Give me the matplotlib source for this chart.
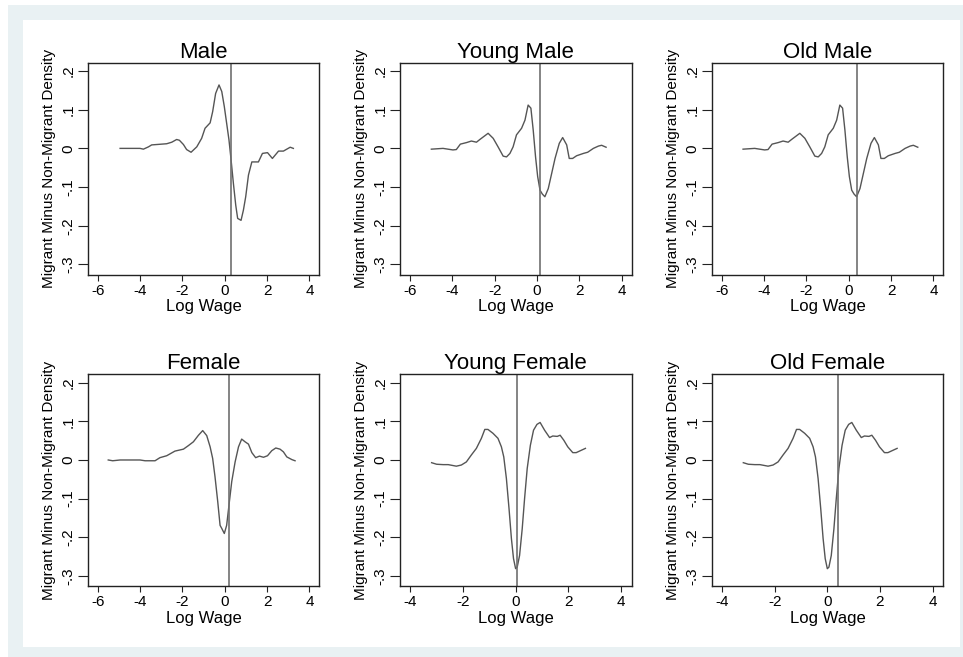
import matplotlib
matplotlib.use("Agg")
import matplotlib.pyplot as plt
from matplotlib.patches import Rectangle

plt.rcParams["font.family"] = ["Liberation Sans", "DejaVu Sans"]

# Migrant minus non-migrant wage density, by group
male_x = [-4.94, -4.5, -4.0, -3.84, -3.6, -3.45, -3.21, -2.74, -2.5, -2.27, -2.14, -1.95, -1.80,
          -1.59, -1.32, -1.09, -0.93, -0.69, -0.57, -0.43, -0.27, -0.14, -0.02, 0.09, 0.20, 0.30,
          0.41, 0.52, 0.61, 0.77, 0.88, 0.99, 1.12, 1.28, 1.59, 1.78, 2.02, 2.25, 2.54, 2.77, 3.09, 3.24]
male_y = [0.0, 0.0, 0.0, -0.002, 0.004, 0.009, 0.010, 0.012, 0.016, 0.023, 0.021, 0.010, -0.003,
          -0.010, 0.004, 0.026, 0.052, 0.066, 0.095, 0.142, 0.164, 0.147, 0.108, 0.065, 0.022, -0.030,
          -0.091, -0.147, -0.181, -0.186, -0.160, -0.125, -0.069, -0.035, -0.035, -0.013, -0.011,
          -0.026, -0.007, -0.007, 0.003, 0.0]

young_male_x = [-4.99, -4.44, -3.97, -3.81, -3.62, -3.33, -3.10, -2.86, -2.70, -2.31, -2.07, -1.84,
                -1.60, -1.44, -1.28, -1.13, -0.97, -0.73, -0.57, -0.42, -0.29, -0.18, -0.07, 0.03,
                0.14, 0.25, 0.37, 0.53, 0.69, 0.85, 1.05, 1.21, 1.40, 1.52, 1.68, 1.87, 2.19, 2.39,
                2.66, 2.90, 3.05, 3.26]
young_male_y = [-0.002, 0.0, -0.004, -0.003, 0.011, 0.015, 0.019, 0.016, 0.023, 0.039, 0.026, 0.004,
                -0.020, -0.022, -0.013, 0.004, 0.035, 0.052, 0.073, 0.112, 0.104, 0.047, -0.022, -0.073,
                -0.108, -0.118, -0.125, -0.104, -0.065, -0.026, 0.013, 0.028, 0.009, -0.026, -0.026,
                -0.019, -0.013, -0.010, 0.0, 0.006, 0.008, 0.003]

old_male_x = young_male_x
old_male_y = young_male_y

female_x = [-5.50, -5.29, -4.94, -4.00, -3.76, -3.29, -3.06, -2.74, -2.35, -1.95, -1.72, -1.48, -1.24,
            -1.04, -0.85, -0.69, -0.57, -0.46, -0.33, -0.22, -0.14, -0.02, 0.09, 0.20, 0.33, 0.49,
            0.65, 0.80, 0.96, 1.12, 1.28, 1.46, 1.64, 1.83, 2.02, 2.22, 2.41, 2.61, 2.77, 2.93, 3.17, 3.32]
female_y = [0.0, -0.002, 0.0, 0.0, -0.002, -0.002, 0.006, 0.011, 0.023, 0.028, 0.037, 0.047, 0.064,
            0.076, 0.063, 0.034, 0.004, -0.043, -0.108, -0.169, -0.177, -0.190, -0.169, -0.117, -0.056,
            -0.005, 0.034, 0.054, 0.047, 0.041, 0.019, 0.006, 0.010, 0.007, 0.011, 0.024, 0.031, 0.028,
            0.021, 0.008, 0.001, -0.002]

young_female_x = [-3.19, -3.00, -2.75, -2.56, -2.25, -2.06, -1.87, -1.68, -1.49, -1.30, -1.17, -1.05,
                  -0.86, -0.67, -0.54, -0.45, -0.35, -0.25, -0.16, -0.08, 0.00, 0.06, 0.15, 0.25, 0.34,
                  0.44, 0.56, 0.68, 0.81, 0.93, 1.10, 1.29, 1.41, 1.58, 1.69, 1.83, 1.98, 2.17, 2.30,
                  2.49, 2.65]
young_female_y = [-0.007, -0.011, -0.012, -0.012, -0.016, -0.013, -0.005, 0.013, 0.030, 0.056, 0.079,
                  0.079, 0.069, 0.056, 0.034, 0.008, -0.048, -0.126, -0.203, -0.255, -0.281, -0.277,
                  -0.247, -0.178, -0.100, -0.022, 0.038, 0.077, 0.092, 0.097, 0.077, 0.058, 0.062, 0.061,
                  0.064, 0.051, 0.034, 0.019, 0.019, 0.025, 0.030]

old_female_x = young_female_x
old_female_y = young_female_y

titles = ["Male", "Young Male", "Old Male", "Female", "Young Female", "Old Female"]
series = [(male_x, male_y), (young_male_x, young_male_y), (old_male_x, old_male_y),
          (female_x, female_y), (young_female_x, young_female_y), (old_female_x, old_female_y)]
cutoffs = [0.30, 0.12, 0.40, 0.22, 0.04, 0.40]
x_ticks = [[-6, -4, -2, 0, 2, 4]] * 4 + [[-4, -2, 0, 2, 4]] * 2
x_limits = [(-6.47, 4.46)] * 4 + [(-4.39, 4.40)] * 2
y_ticks = [0.2, 0.1, 0.0, -0.1, -0.2, -0.3]
y_tick_labels = [".2", ".1", "0", "-.1", "-.2", "-.3"]

W, H = 963, 657
fig = plt.figure(figsize=(W / 100, H / 100), dpi=100)
fig.patch.set_facecolor("white")

# light outer frame and white plot region
fig.add_artist(Rectangle((8 / W, 0), 1, (H - 5) / H, transform=fig.transFigure,
                         facecolor="#e9f1f3", edgecolor="none", zorder=-2))
fig.add_artist(Rectangle((23 / W, 1 - 647 / H), 937 / W, 627 / H, transform=fig.transFigure,
                         facecolor="white", edgecolor="none", zorder=-1))

col_left = [87.7, 400.0, 711.7]
row_top = [62.7, 374.3]
ax_w, ax_h = 231.5, 211.8

for i in range(6):
    r, c = divmod(i, 3)
    left = col_left[c] / W
    bottom = 1 - (row_top[r] + ax_h) / H
    ax = fig.add_axes([left, bottom, ax_w / W, ax_h / H])
    xs, ys = series[i]
    ax.plot(xs, ys, color="#555555", lw=1.0)
    ax.axvline(cutoffs[i], color="#707070", lw=1.2)
    ax.set_xlim(*x_limits[i])
    ax.set_ylim(-0.326, 0.2215)
    ax.set_xticks(x_ticks[i])
    ax.set_xticklabels([str(t) for t in x_ticks[i]], fontsize=11)
    ax.set_yticks(y_ticks)
    ax.set_yticklabels(y_tick_labels, fontsize=11, rotation=90, va="center")
    ax.tick_params(axis="x", direction="out", length=4.5, width=0.8, pad=2, color="#222222")
    ax.tick_params(axis="y", direction="out", length=7, width=0.8, pad=2, color="#222222")
    for s in ax.spines.values():
        s.set_linewidth(1.0)
        s.set_color("#222222")
    ax.set_title(titles[i], fontsize=16, pad=3)
    ax.set_xlabel("Log Wage", fontsize=12, labelpad=1)
    ax.set_ylabel("Migrant Minus Non-Migrant Density", fontsize=11, labelpad=4)

fig.savefig("out.png", dpi=100)
